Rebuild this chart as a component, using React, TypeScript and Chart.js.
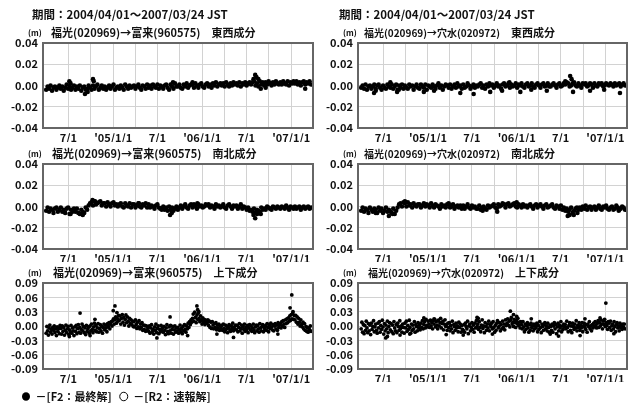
import React, { useEffect, useRef } from "react";
import { Chart, registerables } from "chart.js";

Chart.register(...registerables);

const FONT = "'Noto Sans CJK JP', 'Noto Sans', sans-serif";
Chart.defaults.font.family = FONT;

// ---- texts ----
const PERIOD_TITLE = "期間：2004/04/01～2007/03/24 JST";
const UNIT = "(m)";
const STATIONS = ["福光(020969)→富来(960575)", "福光(020969)→穴水(020972)"];
const COMPONENTS = ["東西成分", "南北成分", "上下成分"];
const LEGEND_LABELS = ["－[F2：最終解]", "－[R2：速報解]"];

// ---- x axis (days since 2004-04-01) ----
const SAMPLE_START_DAY = 0;
const STEP_HORIZ_DAYS = 6; // sampling of the EW / NS series below
const STEP_VERT_DAYS = 3; // sampling of the UD series below
const X_MIN_DAY = -13;
const X_MAX_DAY = 1094;
const GRID_DAYS = [91, 183, 275, 365, 456, 548, 640, 730, 821, 913, 1005];
const GRID_LABELS = ["7/1", "", "'05/1/1", "", "7/1", "", "'06/1/1", "", "7/1", "", "'07/1/1"];

// ---- y axis (m) ----
const Y_TICKS_H = [-0.04, -0.02, 0, 0.02, 0.04];
const Y_TICKS_V = [-0.09, -0.06, -0.03, 0, 0.03, 0.06, 0.09];

// ---- series values (mm) ----
const TOGI_EW_MM = [
  -4, -1, -3, 0, -5, -2, -1, -4, -2, 0,
  -3, -1, -5, -2, 1, -3, -1, -4, -2, 0,
  -4, -1, -3, 0, -5, -2, -1, -4, -3, 0,
  -2, -4, 0, -3, -1, 1, -4, -2, 0, -3,
  -1, -4, -2, 0, -3, -1, 1, -4, -2, -1,
  -3, 0, -2, -4, 1, -1, -3, 0, -2, -1,
  0, -3, -1, 1, -2, -4, 0, -1, -3, 1,
  -2, 0, -3, 1, -1, -2, 1, -3, 0, -1,
  -3, 0, 1, -2, -4, 1, -1, -3, 2, -1,
  -1, 1, -2, -3, 1, -1, 2, -2, 0, 1,
  1, -2, 2, 0, -2, 1, 2, -1, -2, 1,
  2, -1, 1, -2, 2, 0, 3, -1, 1, 2,
  0, 2, -1, 3, 1, -1, 2, 0, 3, 1,
  2, 0, 3, -1, 2, 1, 3, 0, 2, 3,
  1, 3, 4, 0, 2, -1, 4, 1, 3, 0,
  3, 1, 4, 2, 0, 3, 1, 4, 2, 1,
  3, 1, 4, 2, 1, 4, 0, 3, 2, 4,
  2, 4, 1, 3, 0, 3, 4, 1, 3, 2,
  4, 1,
];
const TOGI_EW_OUT = [[95, 4], [100, 2], [159, -8], [170, -6], [192, 6], [195, 4], [520, 3], [600, 3], [850, 6], [857, 10], [862, 8], [870, 6], [880, -3], [900, -2], [1062, -3]];

const ANAMIZU_EW_MM = [
  -2, 0, -3, 1, -4, -1, 0, -3, -1, 1,
  -3, 0, 1, -2, -4, 0, -2, -3, 1, -1,
  -2, 1, -3, -1, 1, -4, 0, -2, 1, -3,
  0, -2, -3, 1, -1, 0, -4, -1, 1, -2,
  -3, 1, -1, -2, 1, -4, 0, -1, -2, 1,
  -1, -3, 0, 2, -2, 0, -4, -1, 1, 0,
  -2, 1, -3, -1, 1, -2, 2, -1, 0, -3,
  1, -2, -1, 2, 0, -3, -1, 1, -2, 0,
  -1, 1, 2, -2, 0, -3, 1, -1, 2, 0,
  1, -2, 0, 2, -1, 0, -3, 1, 2, -1,
  0, 2, -2, 1, -1, 0, 2, -2, 1, 0,
  2, -1, -2, 1, 2, -1, 0, 2, -1, -2,
  1, 2, 0, -2, 1, 2, -1, 0, 2, -1,
  -1, 1, 2, 0, -2, 1, 2, -1, 0, 2,
  1, 3, 2, -1, 0, 2, 3, 0, -1, 2,
  0, -2, 2, 1, 2, -1, 0, 2, 1, -2,
  2, 0, -1, 2, 1, 2, -1, 0, 2, 1,
  0, 2, 1, -1, 2, 0, 1, 2, -1, 1,
  2, 0,
];
const ANAMIZU_EW_OUT = [[53, -7], [60, -5], [120, 3], [148, -6], [155, -4], [258, -6], [300, -5], [408, -7], [463, -8], [531, -6], [580, -5], [610, 3], [655, -6], [700, -4], [764, -5], [840, 4], [860, 9], [866, 6], [872, -6], [942, -5], [1000, -4], [1065, -7]];

const TOGI_NS_MM = [
  -4, -1, -5, -2, -3, -6, -2, -1, -5, -3,
  -1, -5, -3, -6, -2, -1, -7, -3, -5, -2,
  -5, -2, -6, -7, -3, -5, -6, -1, -3, 1,
  3, 4, 1, 5, 2, 3, 4, 5, 1, 3,
  3, 0, 4, 2, 0, 3, 4, 1, 2, 0,
  2, 3, 0, -1, 3, 1, 0, 3, -1, 2,
  2, -1, 1, 3, 0, -1, 2, 1, 3, -1,
  2, -1, 1, 0, -2, 1, 2, -1, -2, -3,
  0, -3, -1, -4, 0, -3, -1, -4, -2, 0,
  -3, -1, 1, -2, 0, 2, -1, -2, 1, 2,
  -1, 2, 0, -2, 2, 0, 1, -1, 0, 2,
  1, 2, -1, 1, 0, -2, 2, 0, 1, -1,
  0, 2, -1, -2, 1, 2, 0, -2, 1, 0,
  1, -2, 0, 2, -2, 0, -1, -3, -1, -4,
  -3, -5, -2, -6, -3, -4, -5, -1, -3, -2,
  -3, 0, -1, -2, -3, 0, -1, -2, 0, -1,
  -2, 0, -1, -2, 1, -1, -3, 0, -1, -2,
  0, -2, -1, 0, -3, -1, 0, -2, -1, 0,
  -2, -1,
];
const TOGI_NS_OUT = [[100, -7], [150, -8], [190, 6], [200, 5], [380, 3], [508, -8], [515, -6], [620, 3], [850, -8], [857, -11], [865, -7], [880, -7]];

const ANAMIZU_NS_MM = [
  -4, -1, -5, -2, -3, -6, -1, -3, -5, -2,
  -3, -6, -1, -4, -2, -6, -4, -1, -5, -3,
  -5, -6, -2, -7, -4, -1, 2, 3, 0, 4,
  3, 0, 4, 1, 2, -1, 3, 1, 0, 2,
  2, -1, 1, 3, 0, 2, 1, -1, 3, 1,
  -1, 2, 1, 0, -2, 2, 0, 1, -1, 2,
  2, -1, 0, 2, -2, 0, 1, -1, 1, -2,
  1, -2, 0, 2, -1, -2, 1, -1, 0, -2,
  -2, 1, -3, -1, 0, -2, -3, 1, -1, 0,
  1, 2, -1, -2, 2, 0, 1, 3, 2, -1,
  2, 3, 0, 1, 2, 3, 0, -1, 2, 1,
  -1, 2, 0, 1, -1, 1, 2, 0, -2, 1,
  2, -1, 1, 2, 0, -2, 1, 2, -1, 0,
  1, 2, -1, -2, 1, 0, -2, 1, -3, -1,
  -4, -2, -5, -3, -1, -6, -4, -2, -1, -3,
  -1, -3, 0, -2, 1, -3, -1, 0, -3, -1,
  0, -3, -1, 1, -2, -3, 0, -1, 1, -2,
  -3, -1, 0, -3, -2, 1, -1, -3, -2, 0,
  -1, -3,
];
const ANAMIZU_NS_OUT = [[60, -6], [114, -9], [130, -7], [180, 5], [360, 3], [500, -4], [560, -5], [640, 4], [850, -9], [858, -8], [875, -8], [890, -6], [1060, -4]];

const TOGI_UD_MM = [
  -15, -1, -10, -19, -4, 2, -13, -7, -17, -3, -9, 0, -14, -6, -20, -2, -11, -5, -16, 1,
  -5, -17, 0, -11, -3, -19, -9, 2, -14, -6, -1, -18, -8, -12, 1, -15, -4, -10, -20, -2,
  -11, 1, -16, -5, 3, -13, -3, -15, -7, 4, -10, -1, -14, -4, -18, 1, -11, -6, -2, -15,
  0, -10, 4, -7, -14, -2, 6, -9, 1, -12, -4, 5, -13, -5, 3, -10, -1, -15, -3, 4,
  -8, 2, -4, -12, 5, -1, 7, -6, 4, 9, 0, 11, 15, 4, 13, 19, 6, 16, 10, 22,
  12, 21, 4, 16, 24, 8, 18, 2, 14, 23, 7, 19, 10, 0, 16, 5, 13, 3, 10, -1,
  9, -2, 13, 3, -5, 8, -2, 11, -6, 4, -3, 7, -9, 2, -7, 1, -11, 0, -8, -3,
  -11, 0, -15, -4, 3, -12, -7, -17, -2, -9, 4, -14, -5, 0, -16, -7, -12, 1, -9, -3,
  -13, -1, -9, -18, -4, 3, -12, -16, -2, -10, 1, -15, -7, -1, -17, -8, 0, -13, -4, -10,
  -3, -15, -8, 2, -12, -5, -16, -1, -10, 3, -7, -13, 0, -6, 6, -3, 9, 3, 13, 8,
  16, 25, 10, 29, 18, 7, 23, 14, 27, 16, 9, 21, 12, 4, 17, 8, 14, 3, 12, 6,
  7, 13, 1, 10, -3, 8, -5, 9, 2, -6, 5, -3, 7, -8, 2, -4, 4, -9, 0, -5,
  1, -9, 4, -5, -12, 2, -7, -1, -14, -3, 3, -8, -11, 0, -5, 6, -10, -2, -7, 2,
  -8, 1, -12, -3, 5, -10, -5, 2, -15, -1, -7, 4, -11, -3, -8, 1, -14, -4, 3, -8,
  0, -11, -4, 4, -8, -14, -2, 2, -10, 1, -6, -13, 5, -4, -10, -1, 3, -12, -3, -7,
  1, -9, 5, -3, -12, 2, -5, 6, -2, -8, 3, -10, 0, 5, -6, 2, -9, 7, -3, 3,
  5, -4, 9, 0, 11, 4, -3, 13, 5, 15, 7, 17, 10, 21, 12, 24, 15, 27, 14, 22,
  13, 22, 8, 19, 4, 16, 8, 0, 13, 3, -2, 8, -6, 5, -9, -1, -11, -3, -13, -5,
  -8, 0, -11,
];
const TOGI_UD_OUT = [[95, -22], [139, 27], [180, -20], [200, 14], [275, 32], [282, 42], [290, 28], [454, -25], [508, 19], [580, -20], [618, 42], [621, 34], [626, 30], [700, -17], [768, -24], [950, -17], [1000, 38], [1007, 65], [1012, 30]];

const ANAMIZU_UD_MM = [
  -6, 8, -13, 3, -16, 1, -9, 10, -4, -14, 5, -10, 2, -18, 6, -7, -1, 11, -12, -2,
  4, -9, -15, 6, -4, 9, -13, 1, -7, 12, -2, -17, 5, -10, 2, -6, 10, -14, -1, 7,
  -8, 5, -12, 2, -16, 9, -4, -10, 3, -14, 6, -1, -9, 11, -5, 0, -13, 4, -3, -15,
  6, -4, 10, -11, 1, -7, 12, -3, -15, 4, -9, 2, -6, 9, -13, 3, -1, -10, 7, -4,
  2, -8, 6, -3, 11, -6, 3, 9, -4, 14, 1, -2, 10, 4, -3, 12, 0, 7, -6, 11,
  4, 14, -2, 9, 2, -6, 12, 0, 7, 16, -4, 5, 10, -8, 4, 13, -1, 3, -9, 6,
  -3, 7, -10, 1, -6, 10, -14, 3, -1, -9, 6, -4, 0, -12, 8, -3, 4, -13, 1, -7,
  -9, 3, -13, 6, -1, -6, 10, -16, 0, 4, -10, -3, 7, -7, 2, -13, 6, -4, 11, -1,
  4, -7, 9, -3, -12, 2, 13, -5, 0, -14, 7, -1, -9, 4, -4, 10, -10, 3, -1, 6,
  -6, 9, -3, -13, 1, -9, 6, 11, -4, -1, 7, -10, 3, -6, 10, -3, 4, -8, 13, 1,
  6, 15, 2, 10, -2, 13, 18, 4, 8, -1, 14, 7, -3, 11, 5, 16, 1, 8, -4, 9,
  3, -6, 9, -2, -12, 4, -7, 1, 7, -4, -13, 3, -9, 6, -3, 0, -10, 4, -6, 1,
  -4, 6, -12, 1, -7, 9, -3, -14, 4, -1, -9, 3, 7, -6, 0, -10, 6, -3, -13, 1,
  -1, -9, 4, -13, 0, 7, -6, 3, -16, -2, 6, -10, 1, -4, 9, -12, 0, -7, 4, -1,
  3, -6, 10, -3, -12, 1, 7, -9, 0, -14, 6, -1, -7, 4, -4, 11, -10, 1, -3, 7,
  -9, 1, -4, 7, -12, 0, 6, -3, -7, 3, -13, 4, -1, 9, -6, 0, -10, 3, -4, 6,
  -1, 9, 1, -4, 6, 11, -3, 7, 0, 13, 4, -6, 10, 3, 14, -1, 7, 1, -7, 9,
  6, -3, 10, -9, 1, 4, -6, 9, -1, -12, 3, 7, -4, 0, -10, 6, -3, 1, -7, 4,
  -3, 4, -6,
];
const ANAMIZU_UD_OUT = [[101, -25], [108, -22], [160, -19], [200, -17], [258, 17], [300, 15], [350, -18], [420, -19], [477, 18], [482, 16], [540, -17], [614, 31], [627, 24], [640, 20], [700, 15], [778, -17], [812, -21], [901, -20], [921, 15], [983, 17], [1007, 48], [1040, -16]];

type Pad = { left: number; right: number; top: number; bottom: number };
type PanelCfg = {
  values: number[];
  step: number;
  outliers: number[][];
  station: number;
  comp: number;
  yTicks: number[];
  rect: { left: number; top: number; width: number; height: number };
  pad: Pad;
  yW: number;
  xH: number;
  period: boolean;
  periodDx: number;
  stationDx: number;
  stationSize: number;
  radius: number;
  legend: boolean;
  legendDx: number;
};

const PANELS: PanelCfg[] = [
  { values: TOGI_EW_MM, step: STEP_HORIZ_DAYS, outliers: TOGI_EW_OUT, station: 0, comp: 0, yTicks: Y_TICKS_H,
    rect: { left: 0, top: 0, width: 317, height: 142 }, pad: { left: 0, right: 4, top: 43, bottom: 0 },
    yW: 43, xH: 14, period: true, periodDx: -11, stationDx: 8, stationSize: 11, radius: 2.3, legend: false, legendDx: 0 },
  { values: ANAMIZU_EW_MM, step: STEP_HORIZ_DAYS, outliers: ANAMIZU_EW_OUT, station: 1, comp: 0, yTicks: Y_TICKS_H,
    rect: { left: 317, top: 0, width: 317, height: 142 }, pad: { left: 0, right: 7, top: 43, bottom: 0 },
    yW: 41, xH: 14, period: true, periodDx: -19, stationDx: 6, stationSize: 10, radius: 2.3, legend: false, legendDx: 0 },
  { values: TOGI_NS_MM, step: STEP_HORIZ_DAYS, outliers: TOGI_NS_OUT, station: 0, comp: 1, yTicks: Y_TICKS_H,
    rect: { left: 0, top: 142, width: 317, height: 120 }, pad: { left: 0, right: 4, top: 22, bottom: 0 },
    yW: 43, xH: 13, period: false, periodDx: 0, stationDx: 9, stationSize: 11, radius: 2.3, legend: false, legendDx: 0 },
  { values: ANAMIZU_NS_MM, step: STEP_HORIZ_DAYS, outliers: ANAMIZU_NS_OUT, station: 1, comp: 1, yTicks: Y_TICKS_H,
    rect: { left: 317, top: 142, width: 317, height: 120 }, pad: { left: 0, right: 7, top: 22, bottom: 0 },
    yW: 41, xH: 13, period: false, periodDx: 0, stationDx: 6, stationSize: 10, radius: 2.3, legend: false, legendDx: 0 },
  { values: TOGI_UD_MM, step: STEP_VERT_DAYS, outliers: TOGI_UD_OUT, station: 0, comp: 2, yTicks: Y_TICKS_V,
    rect: { left: 0, top: 262, width: 317, height: 150 }, pad: { left: 0, right: 4, top: 21, bottom: 0 },
    yW: 43, xH: 14, period: false, periodDx: 0, stationDx: 10, stationSize: 11, radius: 1.9, legend: true, legendDx: 14 },
  { values: ANAMIZU_UD_MM, step: STEP_VERT_DAYS, outliers: ANAMIZU_UD_OUT, station: 1, comp: 2, yTicks: Y_TICKS_V,
    rect: { left: 317, top: 262, width: 317, height: 141 }, pad: { left: 0, right: 7, top: 21, bottom: 21 },
    yW: 41, xH: 13, period: false, periodDx: 0, stationDx: 10, stationSize: 10, radius: 1.9, legend: false, legendDx: 0 },
];

const TEXT_COLOR = "#111";

const headerPlugin = {
  id: "header",
  afterDraw(chart: any, _args: any, opts: any) {
    const { ctx, chartArea } = chart;
    ctx.save();
    ctx.fillStyle = TEXT_COLOR;
    ctx.textBaseline = "middle";
    ctx.textAlign = "left";
    const y = chartArea.top - 10;
    if (opts.period) {
      ctx.font = `bold 11.5px ${FONT}`;
      ctx.fillText(PERIOD_TITLE, chartArea.left + opts.periodDx, chartArea.top - 28);
    }
    ctx.font = `bold 8px ${FONT}`;
    ctx.fillText(UNIT, chartArea.left - 15, y);
    ctx.font = `bold ${opts.stationSize}px ${FONT}`;
    const sx = chartArea.left + opts.stationDx;
    ctx.fillText(opts.station, sx, y);
    const w = ctx.measureText(opts.station).width;
    ctx.font = `bold 11px ${FONT}`;
    ctx.fillText(opts.component, sx + w + 11, y);
    ctx.restore();
  },
};

const boxPlugin = {
  id: "plotBox",
  afterDatasetsDraw(chart: any) {
    const { ctx, chartArea } = chart;
    ctx.save();
    ctx.strokeStyle = "#666";
    ctx.lineWidth = 2;
    ctx.strokeRect(chartArea.left, chartArea.top, chartArea.right - chartArea.left, chartArea.bottom - chartArea.top);
    ctx.restore();
  },
};

// moves the (full-width) legend box to the right without touching the axes
const legendShiftPlugin = {
  id: "legendShift",
  afterLayout(chart: any, _args: any, opts: any) {
    if (chart.legend && opts.dx) {
      chart.legend.left += opts.dx;
    }
  },
};

function Panel({ cfg }: { cfg: PanelCfg }) {
  const ref = useRef<HTMLCanvasElement>(null);
  useEffect(() => {
    const main = cfg.values.map((v, i) => ({ x: SAMPLE_START_DAY + i * cfg.step, y: v / 1000 }));
    const extra = cfg.outliers.map(([d, v]) => ({ x: d, y: v / 1000 }));
    const yMin = cfg.yTicks[0];
    const yMax = cfg.yTicks[cfg.yTicks.length - 1];
    const chart = new Chart(ref.current as HTMLCanvasElement, {
      type: "scatter",
      data: {
        datasets: [
          {
            label: LEGEND_LABELS[0],
            data: [...main, ...extra],
            pointRadius: cfg.radius,
            pointBackgroundColor: "#000",
            pointBorderWidth: 0,
            backgroundColor: "#000",
            borderColor: "#000",
            pointStyle: "circle",
          },
          {
            label: LEGEND_LABELS[1],
            data: [],
            pointRadius: cfg.radius,
            backgroundColor: "#fff",
            borderColor: "#000",
            borderWidth: 1,
            pointStyle: "circle",
          },
        ],
      },
      options: {
        responsive: false,
        animation: false,
        events: [],
        layout: { padding: cfg.pad },
        plugins: {
          legend: {
            display: cfg.legend,
            position: "bottom",
            align: "start",
            labels: {
              usePointStyle: true,
              pointStyle: "circle",
              pointStyleWidth: 8,
              boxHeight: 6,
              padding: 8,
              color: TEXT_COLOR,
              font: { size: 11, weight: "bold" },
            },
          },
          legendShift: { dx: cfg.legendDx },
          tooltip: { enabled: false },
          header: {
            period: cfg.period,
            periodDx: cfg.periodDx,
            station: STATIONS[cfg.station],
            stationDx: cfg.stationDx,
            stationSize: cfg.stationSize,
            component: COMPONENTS[cfg.comp],
          },
        } as any,
        scales: {
          x: {
            type: "linear",
            min: X_MIN_DAY,
            max: X_MAX_DAY,
            afterBuildTicks: (s: any) => {
              s.ticks = GRID_DAYS.map((v) => ({ value: v }));
            },
            afterFit: (s: any) => {
              s.height = cfg.xH;
            },
            ticks: {
              autoSkip: false,
              maxRotation: 0,
              padding: 3,
              color: TEXT_COLOR,
              font: { size: 11, weight: "bold" },
              callback: (v: any) => {
                const i = GRID_DAYS.indexOf(Number(v));
                return i >= 0 ? GRID_LABELS[i] : "";
              },
            },
            grid: { color: "#d2d2d2", drawTicks: false },
            border: { display: false },
          },
          y: {
            type: "linear",
            min: yMin,
            max: yMax,
            afterBuildTicks: (s: any) => {
              s.ticks = cfg.yTicks.map((v) => ({ value: v }));
            },
            afterFit: (s: any) => {
              s.width = cfg.yW;
            },
            ticks: {
              autoSkip: false,
              padding: 5,
              color: TEXT_COLOR,
              font: { size: 11, weight: "bold" },
              callback: (v: any) => Number(v).toFixed(2),
            },
            grid: { color: "#d2d2d2", drawTicks: false },
            border: { display: false },
          },
        } as any,
      },
      plugins: [headerPlugin, boxPlugin, legendShiftPlugin],
    } as any);
    return () => chart.destroy();
  }, [cfg]);
  const { left, top, width, height } = cfg.rect;
  return (
    <div style={{ position: "absolute", left, top, width, height }}>
      <canvas ref={ref} width={width} height={height} style={{ width, height, display: "block" }} />
    </div>
  );
}

export default function App() {
  return (
    <div
      style={{
        position: "fixed",
        left: 0,
        top: 0,
        width: 634,
        height: 403,
        overflow: "hidden",
        background: "#fff",
      }}
    >
      {PANELS.map((p, i) => (
        <Panel key={i} cfg={p} />
      ))}
    </div>
  );
}
